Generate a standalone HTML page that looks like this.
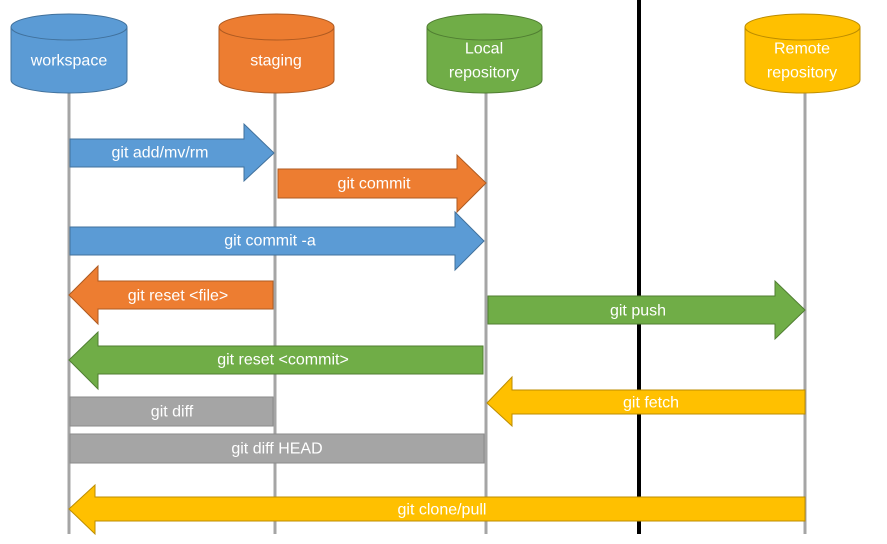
<!DOCTYPE html>
<html><head><meta charset="utf-8"><style>
html,body{margin:0;padding:0;background:#fff;}
svg{display:block;}
text{font-family:"Liberation Sans",sans-serif;font-size:16px;fill:#fff;text-anchor:middle;dominant-baseline:central;}
</style></head><body>
<svg width="887" height="544" viewBox="0 0 887 544" xmlns="http://www.w3.org/2000/svg">
<g stroke="#a5a5a5" stroke-width="3">
<line x1="69" y1="92" x2="69" y2="534"/>
<line x1="275" y1="92" x2="275" y2="534"/>
<line x1="486" y1="92" x2="486" y2="534"/>
<line x1="805" y1="92" x2="805" y2="534"/>
</g>
<line x1="639" y1="0" x2="639" y2="534" stroke="#000" stroke-width="4"/>
<!-- cylinders -->
<g stroke-width="1">
<path d="M11 27 V80 A58 13 0 0 0 127 80 V27 Z" fill="#5b9bd5" stroke="#41719c"/>
<ellipse cx="69" cy="27" rx="58" ry="13" fill="#5b9bd5" stroke="#41719c"/>
<path d="M219 27 V80 A57.5 13 0 0 0 334 80 V27 Z" fill="#ed7d31" stroke="#ae5a21"/>
<ellipse cx="276.5" cy="27" rx="57.5" ry="13" fill="#ed7d31" stroke="#ae5a21"/>
<path d="M427 27 V80 A57.5 13 0 0 0 542 80 V27 Z" fill="#70ad47" stroke="#507e32"/>
<ellipse cx="484.5" cy="27" rx="57.5" ry="13" fill="#70ad47" stroke="#507e32"/>
<path d="M745 27 V80 A57.5 13 0 0 0 860 80 V27 Z" fill="#ffc000" stroke="#bc8c00"/>
<ellipse cx="802.5" cy="27" rx="57.5" ry="13" fill="#ffc000" stroke="#bc8c00"/>
</g>
<text x="69" y="61">workspace</text>
<text x="276" y="61">staging</text>
<text x="484" y="49">Local</text>
<text x="484" y="73">repository</text>
<text x="802" y="49">Remote</text>
<text x="802" y="73">repository</text>
<!-- arrows -->
<g stroke-width="1">
<path d="M70 139 H244 V124 L274 153 L244 181 V167 H70 Z" fill="#5b9bd5" stroke="#41719c"/>
<path d="M278 169 H457 V155 L486 183 L457 212 V198 H278 Z" fill="#ed7d31" stroke="#ae5a21"/>
<path d="M70 227 H455 V212 L484 241 L455 270 V255 H70 Z" fill="#5b9bd5" stroke="#41719c"/>
<path d="M273 281 H98 V266 L69 295 L98 324 V309 H273 Z" fill="#ed7d31" stroke="#ae5a21"/>
<path d="M488 296 H775 V281 L805 310 L775 339 V324 H488 Z" fill="#70ad47" stroke="#507e32"/>
<path d="M483 346 H98 V332 L69 360 L98 389 V374 H483 Z" fill="#70ad47" stroke="#507e32"/>
<path d="M805 390 H512 V377 L487 403 L512 426 V414 H805 Z" fill="#ffc000" stroke="#bc8c00"/>
<rect x="70" y="397" width="203" height="29" fill="#a5a5a5" stroke="#8a8a8a"/>
<rect x="70" y="434" width="414" height="29" fill="#a5a5a5" stroke="#8a8a8a"/>
<path d="M805 497 H95 V485 L69 509 L95 534 V521 H805 Z" fill="#ffc000" stroke="#bc8c00"/>
</g>
<text x="160" y="153">git add/mv/rm</text>
<text x="374" y="184">git commit</text>
<text x="270" y="241">git commit -a</text>
<text x="178" y="296">git reset &lt;file&gt;</text>
<text x="638" y="311">git push</text>
<text x="283" y="360">git reset &lt;commit&gt;</text>
<text x="651" y="403">git fetch</text>
<text x="172" y="412">git diff</text>
<text x="277" y="449">git diff HEAD</text>
<text x="442" y="510">git clone/pull</text>
</svg>
</body></html>
